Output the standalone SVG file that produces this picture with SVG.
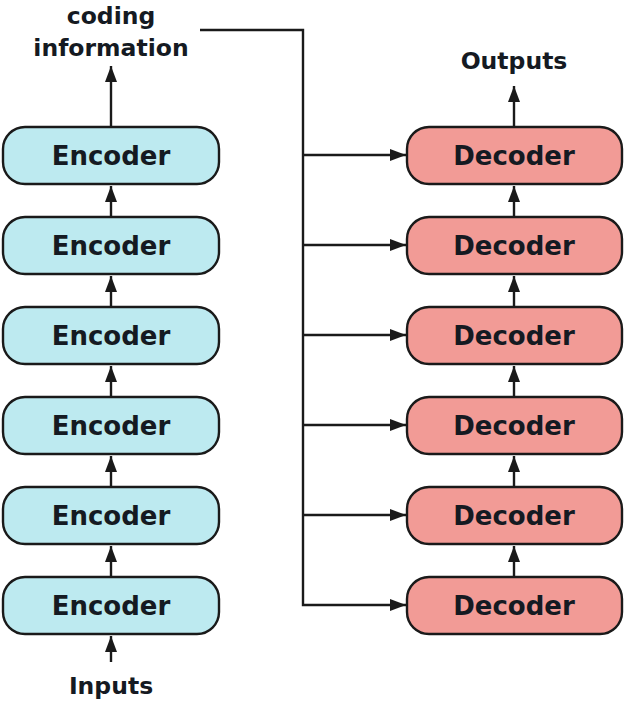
<svg xmlns="http://www.w3.org/2000/svg" width="629" height="704" viewBox="0 0 629 704">
<style>
.enc rect{fill:#bdeaf0;stroke:#1a1a1a;stroke-width:2.4}
.dec rect{fill:#f29b96;stroke:#1a1a1a;stroke-width:2.4}
text{font-family:"DejaVu Sans","Open Sans",sans-serif;font-weight:bold;fill:#151a22;text-anchor:middle}
.lbl{font-size:26px}
.io{font-size:23.5px}
.c line,.c path{stroke:#1a1a1a;stroke-width:2.4;fill:none}
</style>
<defs>
<marker id="a" viewBox="0 0 16 12" refX="16" refY="6" markerWidth="16" markerHeight="13" markerUnits="userSpaceOnUse" orient="auto">
<path d="M0,0 L16,6 L0,12 z" fill="#1a1a1a"/>
</marker>
</defs>
<g id="connectors" class="c">
<line x1="111" y1="127" x2="111" y2="66" marker-end="url(#a)"/>
<line x1="111" y1="217" x2="111" y2="186" marker-end="url(#a)"/>
<line x1="111" y1="307" x2="111" y2="276" marker-end="url(#a)"/>
<line x1="111" y1="397" x2="111" y2="366" marker-end="url(#a)"/>
<line x1="111" y1="487" x2="111" y2="456" marker-end="url(#a)"/>
<line x1="111" y1="577" x2="111" y2="546" marker-end="url(#a)"/>
<line x1="111" y1="662" x2="111" y2="636" marker-end="url(#a)"/>
<line x1="514" y1="127" x2="514" y2="86" marker-end="url(#a)"/>
<line x1="514" y1="217" x2="514" y2="186" marker-end="url(#a)"/>
<line x1="514" y1="307" x2="514" y2="276" marker-end="url(#a)"/>
<line x1="514" y1="397" x2="514" y2="366" marker-end="url(#a)"/>
<line x1="514" y1="487" x2="514" y2="456" marker-end="url(#a)"/>
<line x1="514" y1="577" x2="514" y2="546" marker-end="url(#a)"/>
<path d="M200,30 H303 V605 H406" marker-end="url(#a)"/>
<line x1="303" y1="155" x2="406" y2="155" marker-end="url(#a)"/>
<line x1="303" y1="245" x2="406" y2="245" marker-end="url(#a)"/>
<line x1="303" y1="335" x2="406" y2="335" marker-end="url(#a)"/>
<line x1="303" y1="425" x2="406" y2="425" marker-end="url(#a)"/>
<line x1="303" y1="515" x2="406" y2="515" marker-end="url(#a)"/>
</g>
<g id="enc1" class="enc"><rect x="3" y="127" width="216" height="57" rx="22"/><text class="lbl" x="111" y="165">Encoder</text></g>
<g id="enc2" class="enc"><rect x="3" y="217" width="216" height="57" rx="22"/><text class="lbl" x="111" y="255">Encoder</text></g>
<g id="enc3" class="enc"><rect x="3" y="307" width="216" height="57" rx="22"/><text class="lbl" x="111" y="345">Encoder</text></g>
<g id="enc4" class="enc"><rect x="3" y="397" width="216" height="57" rx="22"/><text class="lbl" x="111" y="435">Encoder</text></g>
<g id="enc5" class="enc"><rect x="3" y="487" width="216" height="57" rx="22"/><text class="lbl" x="111" y="525">Encoder</text></g>
<g id="enc6" class="enc"><rect x="3" y="577" width="216" height="57" rx="22"/><text class="lbl" x="111" y="615">Encoder</text></g>
<g id="dec1" class="dec"><rect x="407" y="127" width="215" height="57" rx="22"/><text class="lbl" x="514" y="165">Decoder</text></g>
<g id="dec2" class="dec"><rect x="407" y="217" width="215" height="57" rx="22"/><text class="lbl" x="514" y="255">Decoder</text></g>
<g id="dec3" class="dec"><rect x="407" y="307" width="215" height="57" rx="22"/><text class="lbl" x="514" y="345">Decoder</text></g>
<g id="dec4" class="dec"><rect x="407" y="397" width="215" height="57" rx="22"/><text class="lbl" x="514" y="435">Decoder</text></g>
<g id="dec5" class="dec"><rect x="407" y="487" width="215" height="57" rx="22"/><text class="lbl" x="514" y="525">Decoder</text></g>
<g id="dec6" class="dec"><rect x="407" y="577" width="215" height="57" rx="22"/><text class="lbl" x="514" y="615">Decoder</text></g>
<g id="coding"><text class="io" x="111" y="24">coding</text><text class="io" x="111" y="56">information</text></g>
<g id="outputs"><text class="io" x="514" y="69">Outputs</text></g>
<g id="inputs"><text class="io" x="111" y="694">Inputs</text></g>
</svg>
